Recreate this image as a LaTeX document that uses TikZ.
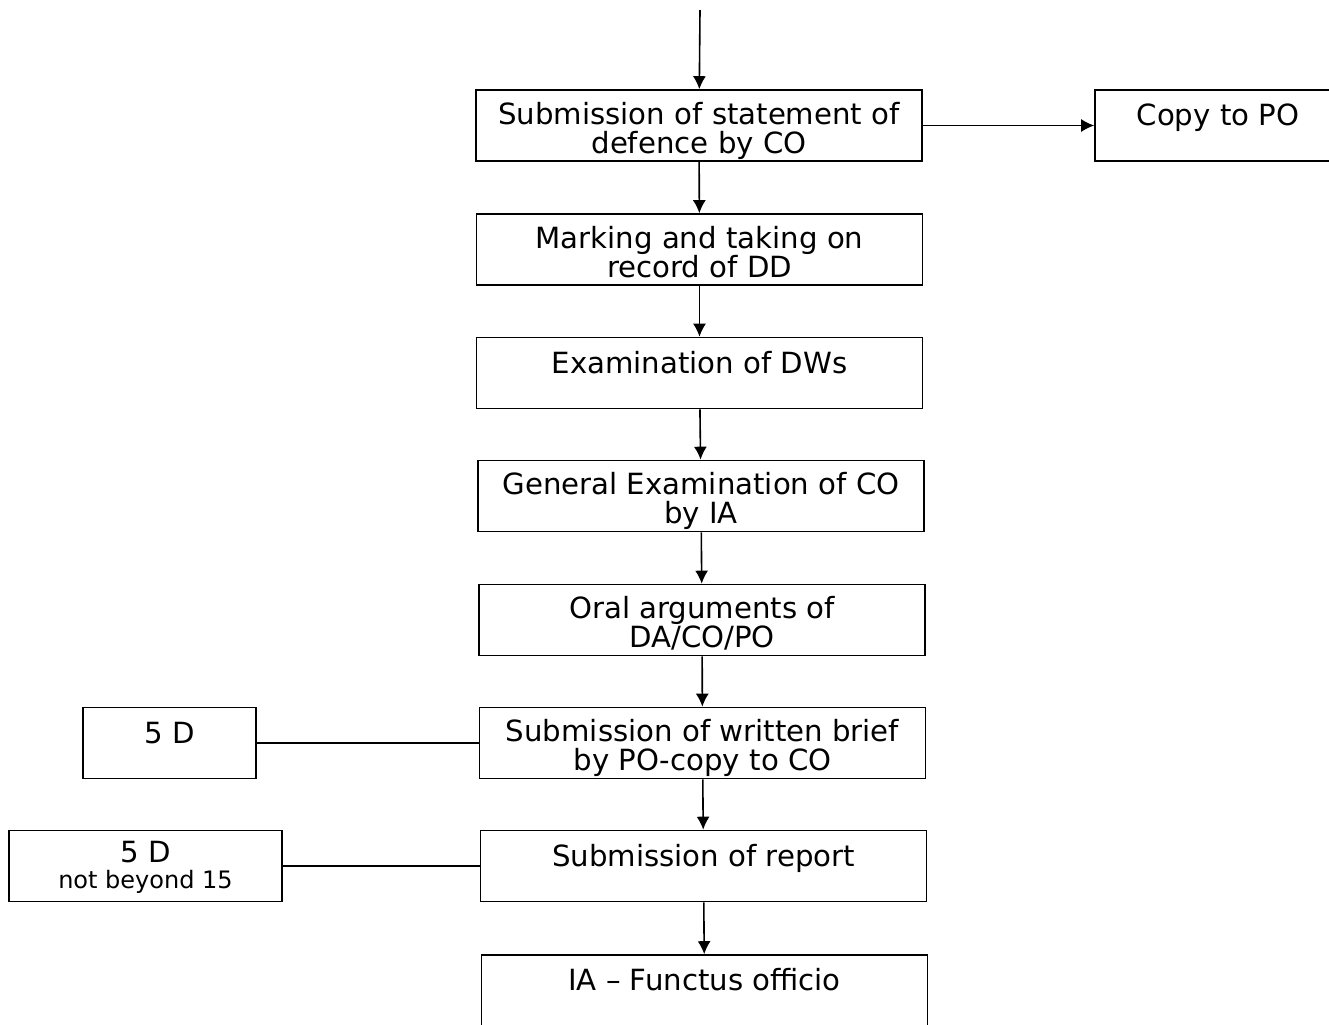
\documentclass[tikz,border=0pt]{standalone}
\usepackage{fontspec}
\setmainfont{DejaVu Sans}
\usetikzlibrary{arrows.meta}

\begin{document}
\begin{tikzpicture}[
            x = 0.5pt, y = -0.5pt,
            every node/.style = {draw, rectangle, align = center, line width = 0.8pt,
                                 inner ysep = 2.25pt, minimum height = 35.5pt,
                                 text height = 29.25pt, text depth = 1.75pt,
                                 font = \fontsize{14.6}{14.5}\selectfont},
            stage/.style = {minimum width = 223pt},
            oneline/.style = {text height = 15.6pt, text depth = 15.4pt},
            link/.style = {line width = 0.8pt},
            flow/.style = {link, -{Latex[length = 6.5pt, width = 6.5pt]}}
            ]
            \useasboundingbox (0,0) rectangle (1329,1024);
            \coordinate (start) at (700,10);
            \node[stage] (defence) at (699,125.5) {Submission of statement of\\defence by CO};
            \node[oneline, minimum width = 123pt] (copy) at (1218,125.5) {Copy to PO};
            \node[stage] (marking) at (699.5,249.5) {Marking and taking on\\record of DD};
            \node[stage, oneline] (dws) at (699.5,373) {Examination of DWs};
            \node[stage] (general) at (701,496) {General Examination of CO\\by IA};
            \node[stage] (oral) at (702,620) {Oral arguments of\\DA/CO/PO};
            \node[stage] (brief) at (702.5,743) {Submission of written brief\\by PO-copy to CO};
            \node[stage, oneline] (report) at (703.5,866) {Submission of report};
            \node[stage, oneline] (functus) at (704.5,990.5) {IA -- Functus officio};
            \node[oneline, minimum width = 86.5pt] (briefdays) at (169.5,743) {5 D};
            \node[minimum width = 136.5pt, text height = 26.75pt, text depth = 4.25pt] (reportdays) at (145.5,866)
                 {5 D\\[-1.5pt]{\fontsize{12}{12}\selectfont not beyond 15}};
            \draw[flow] (start) -- (defence);
            \draw[flow] (defence) -- (copy);
            \draw[flow] (defence) -- (marking);
            \draw[flow] (marking) -- (dws);
            \draw[flow] (dws) -- (general);
            \draw[flow] (general) -- (oral);
            \draw[flow] (oral) -- (brief);
            \draw[flow] (brief) -- (report);
            \draw[flow] (report) -- (functus);
            \draw[link] (briefdays) -- (brief);
            \draw[link] (reportdays) -- (report);
          \end{tikzpicture}
\end{document}
